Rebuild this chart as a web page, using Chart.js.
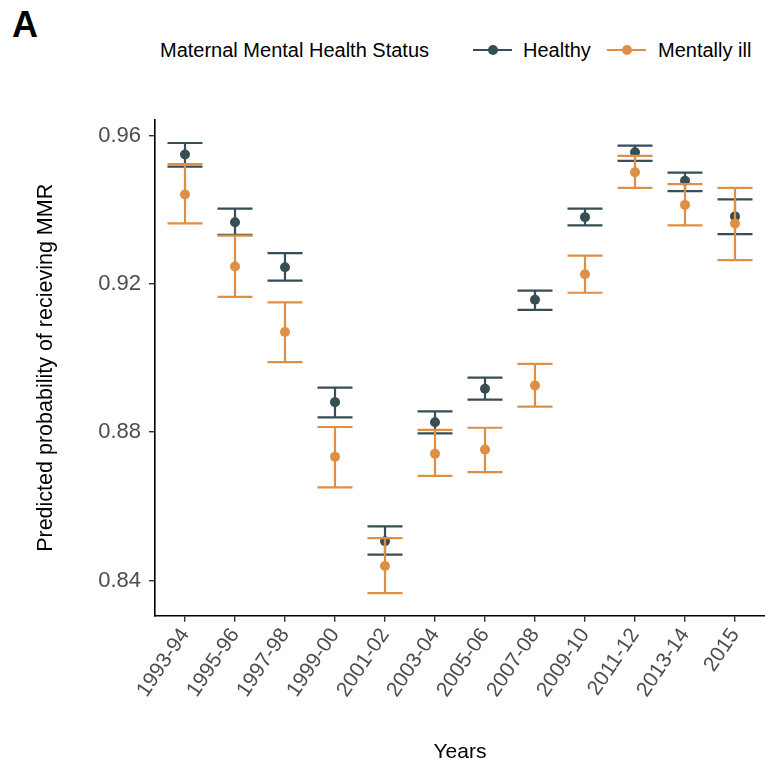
<!DOCTYPE html>
<html>
<head>
<meta charset="utf-8">
<title>Predicted probability of recieving MMR</title>
<script src="https://cdn.jsdelivr.net/npm/chart.js@4.4.1/dist/chart.umd.min.js"></script>
<style>
    html, body {
        margin: 0;
        padding: 0;
        background: #fff;
    }

    body {
        position: relative;
        width: 765px;
        height: 769px;
        overflow: hidden;
        font-family: "Liberation Sans", Arial, sans-serif;
        color: #000;
    }

    .panel-tag {
        position: absolute;
        left: 12px;
        top: 7px;
        font-size: 36px;
        line-height: 36px;
        font-weight: bold;
    }

    .legend {
        position: absolute;
        top: 40px;
        left: 0;
        font-size: 20px;
        line-height: 20px;
    }

    .legend-title,
    .legend-item,
    .legend-key {
        position: absolute;
        white-space: nowrap;
    }

    .legend-key {
        top: 5px;
        width: 39px;
        height: 10px;
    }

    .legend-key::before {
        content: '';
        position: absolute;
        left: 0;
        right: 0;
        top: 4px;
        height: 2px;
        background: var(--key-colour);
    }

    .legend-key::after {
        content: '';
        position: absolute;
        left: 15px;
        top: 0;
        width: 10px;
        height: 10px;
        border-radius: 50%;
        background: var(--key-colour);
    }

    .chart-box {
        position: absolute;
        left: 0;
        top: 0;
        width: 765px;
        height: 769px;
    }
</style>
</head>
<body>
<div class="panel-tag">A</div>
<div class="legend">
    <span class="legend-title" style="left: 160px;">Maternal Mental Health Status</span>
    <span class="legend-key" style="left: 473px; --key-colour: #374E55;"></span>
    <span class="legend-item" style="left: 523px;">Healthy</span>
    <span class="legend-key" style="left: 607px; --key-colour: #DF8F44;"></span>
    <span class="legend-item" style="left: 658px;">Mentally ill</span>
</div>
<div class="chart-box">
    <canvas id="mmrChart" width="765" height="769"></canvas>
</div>
<script>
const categories = ['1993-94', '1995-96', '1997-98', '1999-00', '2001-02', '2003-04',
    '2005-06', '2007-08', '2009-10', '2011-12', '2013-14', '2015'];

const healthyMean = [0.9549, 0.9366, 0.9245, 0.8881, 0.8506, 0.8827, 0.8917, 0.9157, 0.9380, 0.9555, 0.9478, 0.9382];
const healthyLower = [0.9516, 0.9332, 0.9209, 0.8840, 0.8470, 0.8797, 0.8888, 0.9130, 0.9358, 0.9532, 0.9450, 0.9334];
const healthyUpper = [0.9580, 0.9403, 0.9283, 0.8920, 0.8546, 0.8856, 0.8947, 0.9182, 0.9403, 0.9573, 0.9500, 0.9428];

const illMean = [0.9441, 0.9247, 0.9070, 0.8734, 0.8439, 0.8742, 0.8753, 0.8926, 0.9226, 0.9501, 0.9413, 0.9363];
const illLower = [0.9363, 0.9165, 0.8989, 0.8651, 0.8366, 0.8682, 0.8692, 0.8869, 0.9176, 0.9459, 0.9358, 0.9264];
const illUpper = [0.9523, 0.9330, 0.9150, 0.8814, 0.8514, 0.8806, 0.8812, 0.8984, 0.9276, 0.9545, 0.9469, 0.9459];

const yTicks = [0.84, 0.88, 0.92, 0.96];
const yLimits = [0.8305, 0.9642];

const healthyColour = '#374E55';
const illColour = '#DF8F44';
const tickColour = '#4D4D4D';
const fontFamily = '"Liberation Sans", Arial, sans-serif';

// Chart.js has no error bars, so each dataset carries its interval and this draws it under its points.
const errorBarPlugin = {
    id: 'errorBars',
    beforeDatasetDraw(chart, args) {
        const dataset = chart.data.datasets[args.index];
        if (!dataset.lower || !dataset.upper) {
            return;
        }

        const xScale = chart.scales.x;
        const yScale = chart.scales.y;
        const capHalf = Math.abs(xScale.getPixelForValue(0.35) - xScale.getPixelForValue(0));
        const ctx = chart.ctx;

        ctx.save();
        ctx.strokeStyle = dataset.backgroundColor;
        ctx.lineWidth = 2.2;
        ctx.lineCap = 'butt';
        dataset.data.forEach((point, i) => {
            const x = xScale.getPixelForValue(point.x);
            const yLow = yScale.getPixelForValue(dataset.lower[i]);
            const yHigh = yScale.getPixelForValue(dataset.upper[i]);

            ctx.beginPath();
            ctx.moveTo(x, yLow);
            ctx.lineTo(x, yHigh);
            ctx.moveTo(x - capHalf, yLow);
            ctx.lineTo(x + capHalf, yLow);
            ctx.moveTo(x - capHalf, yHigh);
            ctx.lineTo(x + capHalf, yHigh);
            ctx.stroke();
        });
        ctx.restore();
    },
};

const toPoints = (values) => values.map((value, i) => ({ x: i, y: value }));

const axisGrid = {
    display: true,
    drawOnChartArea: false,
    drawTicks: true,
    tickLength: 6,
    color: '#333',
    lineWidth: 1.4,
};

new Chart(document.getElementById('mmrChart'), {
    type: 'scatter',
    data: {
        datasets: [
            {
                label: 'Healthy',
                data: toPoints(healthyMean),
                lower: healthyLower,
                upper: healthyUpper,
                backgroundColor: healthyColour,
                borderWidth: 0,
                pointRadius: 5,
                order: 2,
            },
            {
                label: 'Mentally ill',
                data: toPoints(illMean),
                lower: illLower,
                upper: illUpper,
                backgroundColor: illColour,
                borderWidth: 0,
                pointRadius: 5,
                order: 1,
            },
        ],
    },
    options: {
        responsive: false,
        animation: false,
        events: [],
        layout: {
            autoPadding: false,
            padding: { top: 120, left: 0, right: 0, bottom: 0 },
        },
        plugins: {
            legend: { display: false },
            tooltip: { enabled: false },
        },
        scales: {
            x: {
                type: 'linear',
                min: -0.6,
                max: categories.length - 0.4,
                afterBuildTicks: (axis) => {
                    axis.ticks = categories.map((label, i) => ({ value: i }));
                },
                afterFit: (axis) => {
                    axis.height = 153.3;
                    axis.paddingLeft = 0;
                    axis.paddingRight = 0;
                },
                ticks: {
                    autoSkip: false,
                    minRotation: 56,
                    maxRotation: 56,
                    padding: 2,
                    color: tickColour,
                    font: { family: fontFamily, size: 21 },
                    callback: (value) => categories[value],
                },
                grid: axisGrid,
                border: { display: true, color: '#000', width: 1.6 },
                title: {
                    display: true,
                    text: 'Years',
                    color: '#000',
                    font: { family: fontFamily, size: 21 },
                    padding: { top: 0, bottom: 4 },
                },
            },
            y: {
                type: 'linear',
                min: yLimits[0],
                max: yLimits[1],
                afterBuildTicks: (axis) => {
                    axis.ticks = yTicks.map((value) => ({ value }));
                },
                afterFit: (axis) => {
                    axis.width = 155;
                },
                ticks: {
                    padding: 8,
                    color: tickColour,
                    font: { family: fontFamily, size: 22 },
                    callback: (value) => value.toFixed(2),
                },
                grid: axisGrid,
                border: { display: true, color: '#000', width: 1.6 },
                title: {
                    display: true,
                    text: 'Predicted probability of recieving MMR',
                    color: '#000',
                    font: { family: fontFamily, size: 21.5 },
                    padding: { top: 33, bottom: 0 },
                },
            },
        },
    },
    plugins: [errorBarPlugin],
});
</script>
</body>
</html>
